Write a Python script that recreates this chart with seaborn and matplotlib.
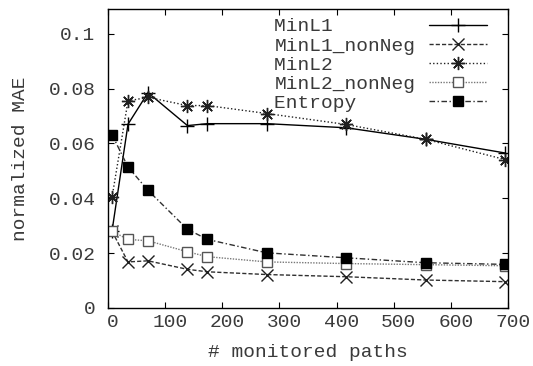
import matplotlib
matplotlib.use("Agg")
import matplotlib.pyplot as plt
import matplotlib.transforms as mtransforms
import seaborn as sns
import pandas as pd

# Number of monitored paths and normalized MAE per estimator
paths = [7, 35, 70, 139, 174, 278, 417, 556, 695]
min_l1 = [0.028, 0.067, 0.0785, 0.0665, 0.0672, 0.0672, 0.0657, 0.0615, 0.0565]
min_l1_nonneg = [0.028, 0.0168, 0.0172, 0.0141, 0.0132, 0.0122, 0.0114, 0.0102, 0.0096]
min_l2 = [0.0403, 0.0755, 0.0768, 0.0738, 0.0738, 0.0709, 0.0669, 0.0615, 0.0541]
min_l2_nonneg = [0.028, 0.025, 0.0245, 0.0205, 0.0187, 0.0168, 0.0162, 0.0158, 0.0154]
entropy = [0.0632, 0.0514, 0.0429, 0.0287, 0.025, 0.0201, 0.0183, 0.0165, 0.0159]

series_names = ["MinL1", "MinL1_nonNeg", "MinL2", "MinL2_nonNeg", "Entropy"]
series_values = [min_l1, min_l1_nonneg, min_l2, min_l2_nonneg, entropy]

x_ticks = [0, 100, 200, 300, 400, 500, 600, 700]
y_ticks = [0, 0.02, 0.04, 0.06, 0.08, 0.1]
y_tick_labels = ["0", "0.02", "0.04", "0.06", "0.08", "0.1"]

sns.set_style("ticks")
plt.rcParams["font.family"] = ["Liberation Mono", "DejaVu Sans Mono"]
text_color = "#3a3a3a"
fs = 14

styles = {
    "MinL1": dict(color="black", linestyle="-", marker="+", mfc="black",
                  mec="black", ms=9.5, mew=1.0),
    "MinL1_nonNeg": dict(color="#303030", linestyle=(0, (3, 1.5)), marker="x",
                         mfc="black", mec="#202020", ms=8, mew=1.0),
    "MinL2": dict(color="#202020", linestyle=(0, (1, 1.6)), marker=(8, 2, 0),
                  mfc="black", mec="#202020", ms=9.5, mew=1.0),
    "MinL2_nonNeg": dict(color="#777777", linestyle=(0, (1, 1.0)), marker="s",
                         mfc="white", mec="#555555", ms=7.5, mew=1.0),
    "Entropy": dict(color="#303030", linestyle=(0, (4, 1.8, 1, 1.8)), marker="s",
                    mfc="black", mec="black", ms=7.5, mew=1.0),
}

df = pd.DataFrame({"paths": paths})
for name, vals in zip(series_names, series_values):
    df[name] = vals

# monospace labels padded to equal width so they line up on the left
label_width = max(len(n) for n in series_names)

fig = plt.figure(figsize=(5.33, 3.66), dpi=100)
ax = fig.add_axes([108 / 533, 1 - 308 / 366, 400 / 533, 299 / 366])

for name in series_names:
    st = styles[name]
    sns.lineplot(data=df, x="paths", y=name, ax=ax, label=name.ljust(label_width),
                 color=st["color"], linestyle=st["linestyle"], linewidth=1.0,
                 marker=st["marker"], markersize=st["ms"],
                 markerfacecolor=st["mfc"], markeredgecolor=st["mec"],
                 markeredgewidth=st["mew"])

ax.set_xlim(0, 700)
ax.set_ylim(0, 0.109)
ax.set_xticks(x_ticks)
ax.set_xticklabels([str(t) for t in x_ticks])
ax.set_yticks(y_ticks)
ax.set_yticklabels(y_tick_labels)

ax.tick_params(direction="in", length=4, width=0.8, top=True, right=True,
               labelsize=fs, labelcolor=text_color, color="black")
ax.tick_params(axis="y", pad=9)
ax.tick_params(axis="x", pad=4)
for spine in ax.spines.values():
    spine.set_visible(True)
    spine.set_linewidth(1.0)
    spine.set_color("black")

# shift the x tick labels slightly to the right
offset = mtransforms.ScaledTranslation(5 / 100, 0, fig.dpi_scale_trans)
for lbl in ax.get_xticklabels():
    lbl.set_transform(lbl.get_transform() + offset)

ax.set_xlabel("# monitored paths", fontsize=fs, color=text_color, labelpad=10)
ax.set_ylabel("normalized MAE", fontsize=fs, color=text_color, labelpad=14)

leg = ax.legend(loc="upper right", frameon=False, markerfirst=False,
                fontsize=fs, handlelength=3.0, handletextpad=0.7,
                labelspacing=0.08, borderaxespad=0.05, labelcolor=text_color,
                bbox_to_anchor=(0.97, 1.0))

fig.savefig("out.png", dpi=100)
